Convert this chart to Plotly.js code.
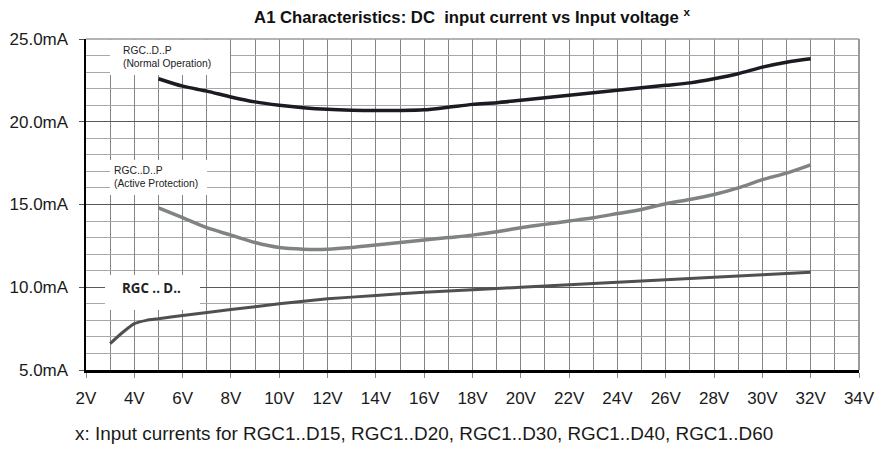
<!DOCTYPE html>
<html>
<head>
<meta charset="utf-8">
<script src="https://cdn.plot.ly/plotly-3.0.1.min.js"></script>
<style>
  html, body { margin: 0; padding: 0; background: #fff; }
  #chart { width: 879px; height: 450px; }
</style>
</head>
<body>
<div id="chart"></div>
<script>
// ---- data ----
const normalV  = [5, 6, 7, 8, 9, 10, 11, 12, 13, 14, 15, 16, 17, 18, 19, 20, 21, 22, 23, 24, 25, 26, 27, 28, 29, 30, 31, 32];
const normalI  = [22.6, 22.15, 21.85, 21.5, 21.2, 21.0, 20.85, 20.75, 20.7, 20.68, 20.68, 20.72, 20.88, 21.05, 21.15, 21.3, 21.45, 21.6, 21.75, 21.9, 22.05, 22.2, 22.35, 22.6, 22.9, 23.3, 23.6, 23.8];

const protectV = [5, 6, 7, 8, 9, 10, 11, 12, 13, 14, 15, 16, 17, 18, 19, 20, 21, 22, 23, 24, 25, 26, 27, 28, 29, 30, 31, 32];
const protectI = [14.8, 14.2, 13.6, 13.15, 12.7, 12.4, 12.3, 12.3, 12.4, 12.55, 12.7, 12.85, 13.0, 13.15, 13.35, 13.6, 13.8, 14.0, 14.2, 14.45, 14.7, 15.05, 15.3, 15.6, 16.0, 16.5, 16.9, 17.4];

const basicV   = [3, 3.5, 4, 4.5, 5, 6, 8, 10, 12, 14, 16, 18, 20, 22, 24, 26, 28, 30, 32];
const basicI   = [6.6, 7.25, 7.8, 8.0, 8.1, 8.3, 8.65, 9.0, 9.3, 9.5, 9.7, 9.85, 10.0, 10.15, 10.3, 10.45, 10.6, 10.75, 10.9];

const labelNormal  = "RGC..D..P<br>(Normal Operation)";
const labelProtect = "RGC..D..P<br>(Active Protection)";
const labelBasic   = "<b>RGC .. D..</b>";
const titleText    = "<b>A1 Characteristics: DC  input current vs Input voltage <sup>x</sup></b>";
const footnote     = "x: Input currents for RGC1..D15, RGC1..D20, RGC1..D30, RGC1..D40, RGC1..D60";

const FONT = "Liberation Sans, Arial, sans-serif";

const traces = [
  { x: basicV, y: basicI, mode: "lines", line: { color: "#505050", width: 3, shape: "spline", smoothing: 0.5 }, hoverinfo: "skip" },
  { x: protectV, y: protectI, mode: "lines", line: { color: "#7f8483", width: 3.5, shape: "spline", smoothing: 0.8 }, hoverinfo: "skip" },
  { x: normalV, y: normalI, mode: "lines", line: { color: "#1b1b22", width: 3.5, shape: "spline", smoothing: 0.8 }, hoverinfo: "skip" }
];

// white label boxes (paper-pixel helpers)
const W = 879, H = 450, L = 86, R = 20, T = 39, B = 80;
const px = v => (v - L) / (W - L - R);
const py = v => (H - B - v) / (H - T - B);

const layout = {
  width: W, height: H,
  margin: { l: L, r: R, t: T, b: B, pad: 0 },
  paper_bgcolor: "#fff", plot_bgcolor: "#fff",
  showlegend: false,
  font: { family: FONT, color: "#1a1a1a", size: 16 },
  title: {
    text: titleText,
    font: { family: FONT, size: 16.7, color: "#111" },
    x: 0.537, xanchor: "center", xref: "container",
    y: 1 - 17 / 450, yanchor: "middle", yref: "container"
  },
  xaxis: {
    range: [2, 34], dtick: 2, tick0: 2,
    ticksuffix: "V",
    showline: true, linecolor: "#000", linewidth: 3,
    ticks: "outside", ticklen: 5, tickcolor: "#888", tickwidth: 1,
    ticklabelstandoff: 6,
    showgrid: true, gridcolor: "#858585", gridwidth: 1,
    minor: { dtick: 1, showgrid: true, gridcolor: "#858585", gridwidth: 1, ticks: "" },
    zeroline: false, fixedrange: true,
    tickfont: { family: FONT, size: 17, color: "#1a1a1a" }
  },
  yaxis: {
    range: [5, 25], dtick: 5, tick0: 5,
    tickformat: ".1f", ticksuffix: "mA",
    showline: true, linecolor: "#000", linewidth: 2.5,
    ticks: "outside", ticklen: 5, tickcolor: "#555", tickwidth: 1,
    ticklabelstandoff: 7,
    showgrid: true, gridcolor: "#5a5a5a", gridwidth: 1,
    minor: { dtick: 1, showgrid: true, gridcolor: "#a8a8a8", gridwidth: 1, ticks: "" },
    zeroline: false, fixedrange: true,
    tickfont: { family: FONT, size: 17, color: "#1a1a1a" }
  },
  shapes: [
    { type: "line", xref: "paper", yref: "paper", x0: 0, x1: 1, y0: 1, y1: 1, line: { color: "#9a9a9a", width: 1.5 } },
    { type: "line", xref: "paper", yref: "paper", x0: 1, x1: 1, y0: 0, y1: 1, line: { color: "#9a9a9a", width: 2 } },
    { type: "rect", layer: "above", xref: "paper", yref: "paper", x0: px(110), x1: px(230), y0: py(75), y1: py(40), fillcolor: "#fff", line: { width: 0 } },
    { type: "rect", layer: "above", xref: "paper", yref: "paper", x0: px(110), x1: px(207), y0: py(195), y1: py(160), fillcolor: "#fff", line: { width: 0 } },
    { type: "rect", layer: "above", xref: "paper", yref: "paper", x0: px(105), x1: px(200), y0: py(310), y1: py(275), fillcolor: "#fff", line: { width: 0 } }
  ],
  annotations: [
    { text: labelNormal, xref: "paper", yref: "paper", x: px(121), y: py(57), xanchor: "left", yanchor: "middle",
      showarrow: false, align: "left",
      font: { family: FONT, size: 10.3, color: "#222" } },
    { text: labelProtect, xref: "paper", yref: "paper", x: px(112), y: py(177), xanchor: "left", yanchor: "middle",
      showarrow: false, align: "left",
      font: { family: FONT, size: 10.3, color: "#222" } },
    { text: labelBasic, xref: "paper", yref: "paper", x: px(120), y: py(288), xanchor: "left", yanchor: "middle",
      showarrow: false, align: "left",
      font: { family: "Open Sans, " + FONT, size: 13.3, color: "#222" } },
    { text: footnote, xref: "paper", yref: "paper", x: px(73), y: py(433),
      xanchor: "left", yanchor: "middle", showarrow: false, align: "left",
      font: { family: FONT, size: 18.9, color: "#1a1a1a" } }
  ]
};

Plotly.newPlot("chart", traces, layout, { staticPlot: true, displayModeBar: false });
</script>
</body>
</html>
